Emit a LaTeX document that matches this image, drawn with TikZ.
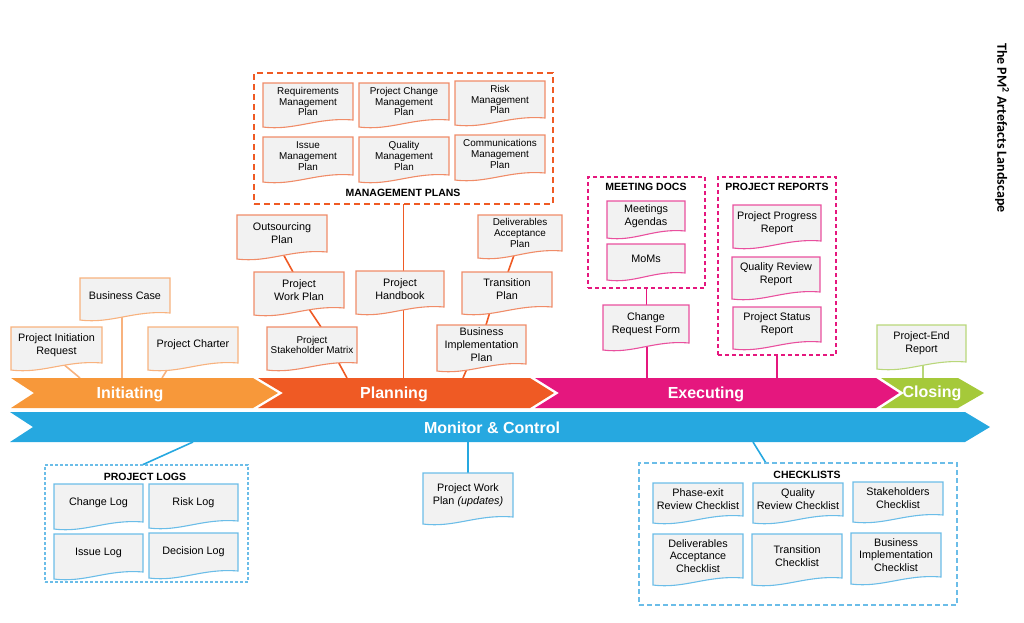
\documentclass[tikz,border=0pt]{standalone}
\usepackage{fontspec}
\setmainfont{Liberation Sans}
\newfontfamily\titlefont{Carlito}
\usetikzlibrary{backgrounds}

\definecolor{inicol}{RGB}{247,152,58}
\definecolor{plancol}{RGB}{239,90,36}
\definecolor{execol}{RGB}{229,23,126}
\definecolor{closecol}{RGB}{165,201,58}
\definecolor{mccol}{RGB}{38,168,224}
\definecolor{iniline}{RGB}{248,178,126}
\definecolor{planline}{RGB}{240,140,104}
\definecolor{exeline}{RGB}{233,80,158}
\definecolor{closeline}{RGB}{185,215,122}
\definecolor{mcline}{RGB}{107,189,232}
\definecolor{docgray}{RGB}{242,242,242}

% document shape with a wavy lower edge
\newdimen\dwL \newdimen\dwR \newdimen\dwT \newdimen\dwB
\newdimen\dwCa \newdimen\dwCb
\makeatletter
\pgfdeclareshape{wavedoc}{
  \inheritsavedanchors[from=rectangle]
  \inheritanchorborder[from=rectangle]
  \inheritanchor[from=rectangle]{center}
  \inheritanchor[from=rectangle]{north}
  \inheritanchor[from=rectangle]{south}
  \inheritanchor[from=rectangle]{east}
  \inheritanchor[from=rectangle]{west}
  \inheritanchor[from=rectangle]{north east}
  \inheritanchor[from=rectangle]{north west}
  \inheritanchor[from=rectangle]{south east}
  \inheritanchor[from=rectangle]{south west}
  \inheritanchor[from=rectangle]{text}
  \inheritanchor[from=rectangle]{mid}
  \inheritanchor[from=rectangle]{base}
  \backgroundpath{
    \southwest \global\dwL=\pgf@x \global\dwB=\pgf@y
    \northeast \global\dwR=\pgf@x \global\dwT=\pgf@y
    \dwCa=\dwR \advance\dwCa by-\dwL
    \dwCb=0.6\dwCa \advance\dwCb by\dwL
    \dwCa=0.35\dwCa \advance\dwCa by\dwL
    \pgfpathmoveto{\pgfqpoint{\dwL}{\dwT}}
    \pgfpathlineto{\pgfqpoint{\dwR}{\dwT}}
    \pgfpathlineto{\pgfqpoint{\dwR}{\dwB}}
    \pgfpathcurveto{\pgfqpoint{\dwCb}{\dimexpr\dwB+3pt\relax}}%
      {\pgfqpoint{\dwCa}{\dimexpr\dwB-11pt\relax}}%
      {\pgfqpoint{\dwL}{\dimexpr\dwB-7pt\relax}}
    \pgfpathclose
  }
}
\makeatother

\tikzset{
  artefact/.style={shape=wavedoc, draw=#1, fill=docgray, line width=1.1pt,
    anchor=north west, outer sep=0pt, inner sep=1pt, align=center,
    minimum width=90pt, minimum height=36pt,
    font=\fontsize{10.8}{12.8}\selectfont},
  tight/.style={font=\fontsize{9.9}{10.7}\selectfont},
  grpbox/.style={draw=#1, line width=1.3pt, anchor=north west,
    inner sep=0pt, outer sep=0pt},
  grplabel/.style={font=\fontsize{10.5}{12}\selectfont\bfseries},
  phaselabel/.style={text=white, font=\fontsize{16}{18}\selectfont\bfseries},
  link/.style={draw=#1, line width=1.6pt},
}

\begin{document}
\begin{tikzpicture}[x=1pt,y=-1pt]
\useasboundingbox (0,0) rectangle (1024,622);

% phase bars
\fill[inicol] (11,378) -- (253,378) -- (278,393) -- (253,408) -- (11,408) -- (34,393) -- cycle;
\fill[plancol] (258,378) -- (530,378) -- (554,393) -- (530,408) -- (258,408) -- (283,393) -- cycle;
\fill[execol] (535,378) -- (876,378) -- (899,393) -- (876,408) -- (535,408) -- (559,393) -- cycle;
\fill[closecol] (881,378) -- (958,378) -- (984,393) -- (958,408) -- (881,408) -- (904,393) -- cycle;
\fill[mccol] (10,412) -- (965,412) -- (990,427) -- (965,442) -- (10,442) -- (33,427) -- cycle;
\node[phaselabel] (initiating) at (130,394) {Initiating};
\node[phaselabel] (planning) at (394,394) {Planning};
\node[phaselabel] (executing) at (706,394) {Executing};
\node[phaselabel] (closing) at (932,393) {Closing};
\node[phaselabel] (monitor) at (492,428) {Monitor \& Control};

\coordinate (ib1) at (80,378);
\coordinate (ib2) at (122,378);
\coordinate (ib3) at (162,378);
\coordinate (pb1) at (347,378);
\coordinate (pb2) at (403.5,378);
\coordinate (pb3) at (463,378);
\coordinate (eb1) at (647,378);
\coordinate (eb2) at (777,378);
\coordinate (cb1) at (923,378);
\coordinate (mb1) at (193,442);
\coordinate (mb2) at (468,442);
\coordinate (mb3) at (753,442);

% title
\node[rotate=-90, font=\titlefont\fontsize{14}{16}\selectfont\bfseries] (title) at (1002,128) {The PM\textsuperscript{2} Artefacts Landscape};

% initiating
\node[artefact=iniline, minimum width=91pt] (pir) at (11,327) {Project Initiation\\Request};
\node[artefact=iniline, minimum height=35pt] (bcase) at (80,278) {Business Case};
\node[artefact=iniline] (pcharter) at (148,327) {Project Charter};

% planning
\node[grpbox=plancol, dash pattern=on 6pt off 4pt, minimum width=299pt, minimum height=131pt] (mplans) at (254,73) {};
\node[grplabel] (mplanslbl) at (403,193) {MANAGEMENT PLANS};
\node[artefact=planline, tight, minimum height=37pt] (rmp) at (263,83) {Requirements\\Management\\Plan};
\node[artefact=planline, tight, minimum height=37pt] (pcmp) at (359,83) {Project Change\\Management\\Plan};
\node[artefact=planline, tight, minimum height=37pt] (riskmp) at (455,81) {Risk\\Management\\Plan};
\node[artefact=planline, tight, minimum height=38pt] (imp) at (263,137) {Issue\\Management\\Plan};
\node[artefact=planline, tight, minimum height=38pt] (qmp) at (359,137) {Quality\\Management\\Plan};
\node[artefact=planline, tight, minimum height=38pt] (cmp) at (455,135) {Communications\\Management\\Plan};
\node[artefact=planline, minimum height=37pt] (outsrc) at (237,215) {Outsourcing\\Plan};
\node[artefact=planline] (pwp) at (254,272) {Project\\Work Plan};
\node[artefact=planline, tight] (psm) at (267,327) {Project\\Stakeholder Matrix};
\node[artefact=planline, minimum width=88pt] (phb) at (356,271) {Project\\Handbook};
\node[artefact=planline, tight, minimum width=84pt] (dap) at (478,215) {Deliverables\\Acceptance\\Plan};
\node[artefact=planline, minimum height=35pt] (trp) at (462,272) {Transition\\Plan};
\node[artefact=planline, minimum width=89pt, minimum height=39pt] (bip) at (437,325) {Business\\Implementation\\Plan};

% executing
\node[grpbox=execol, dash pattern=on 4pt off 3pt, minimum width=117pt, minimum height=111pt] (mdocs) at (588,177) {};
\node[grplabel] (mdocslbl) at (646,187) {MEETING DOCS};
\node[artefact=exeline, minimum width=78pt, minimum height=30pt] (agenda) at (607,201) {Meetings\\Agendas};
\node[artefact=exeline, minimum width=78pt, minimum height=29pt] (moms) at (607,244) {MoMs};
\node[artefact=exeline, minimum width=86pt, minimum height=38pt] (crf) at (603,305) {Change\\Request Form};
\node[grpbox=execol, dash pattern=on 4pt off 3pt, minimum width=118pt, minimum height=178pt] (preports) at (718,177) {};
\node[grplabel] (preportslbl) at (777,187) {PROJECT REPORTS};
\node[artefact=exeline, minimum width=88pt] (ppr) at (733,205) {Project Progress\\Report};
\node[artefact=exeline, minimum width=88pt, minimum height=35pt] (qrr) at (732,257) {Quality Review\\Report};
\node[artefact=exeline, minimum width=88pt, minimum height=35pt] (psr) at (733,307) {Project Status\\Report};

% closing
\node[artefact=closeline, minimum width=89pt, minimum height=37pt] (per) at (877,325) {Project-End\\Report};

% monitor and control
\node[grpbox=mcline, dash pattern=on 3pt off 2pt, line width=1.1pt, minimum width=203pt, minimum height=117pt] (logs) at (45,465) {};
\node[grplabel] (logslbl) at (145,477) {PROJECT LOGS};
\node[artefact=mcline, minimum width=89pt, minimum height=38pt] (clog) at (54,484) {Change Log};
\node[artefact=mcline, minimum width=89pt, minimum height=37pt] (rlog) at (149,484) {Risk Log};
\node[artefact=mcline, minimum width=89pt, minimum height=38pt] (ilog) at (54,534) {Issue Log};
\node[artefact=mcline, minimum width=89pt, minimum height=38pt] (dlog) at (149,533) {Decision Log};
\node[artefact=mcline, minimum height=44pt] (pwpu) at (423,473) {Project Work\\Plan \textit{(updates)}};
\node[grpbox=mcline, dash pattern=on 5pt off 3pt, line width=1.3pt, minimum width=318pt, minimum height=142pt] (checks) at (639,463) {};
\node[grplabel] (checkslbl) at (807,475) {CHECKLISTS};
\node[artefact=mcline, minimum height=33pt] (pxc) at (653,483) {Phase-exit\\Review Checklist};
\node[artefact=mcline, minimum height=33pt] (qrc) at (753,483) {Quality\\Review Checklist};
\node[artefact=mcline, minimum height=33pt] (shc) at (853,482) {Stakeholders\\Checklist};
\node[artefact=mcline, minimum height=44pt] (dac) at (653,534) {Deliverables\\Acceptance\\Checklist};
\node[artefact=mcline, minimum height=44pt] (trc) at (752,534) {Transition\\Checklist};
\node[artefact=mcline, minimum height=44pt] (bic) at (851,533) {Business\\Implementation\\Checklist};

% connectors
\begin{scope}[on background layer]
\draw[link=iniline] ([xshift=5.5pt]pir.south) -- (ib1);
\draw[link=iniline] ([xshift=-3pt]bcase.south) -- (ib2);
\draw[link=iniline] ([xshift=-21.6pt]pcharter.south) -- (ib3);
\draw[link=plancol] (outsrc.south) -- ([xshift=-6pt]pwp.north);
\draw[link=plancol] ([xshift=9.3pt]pwp.south) -- ([xshift=9pt]psm.north);
\draw[link=plancol] ([xshift=26.8pt]psm.south) -- (pb1);
\draw[link=plancol] (mplans.south) -- (mplans.south |- phb.north);
\draw[link=plancol] ([xshift=3.5pt]phb.south) -- (pb2);
\draw[link=plancol] ([xshift=-4.5pt]dap.south) -- ([xshift=1pt]trp.north);
\draw[link=plancol] ([xshift=-15.6pt]trp.south) -- ([xshift=4.5pt]bip.north);
\draw[link=plancol] ([xshift=-12.5pt]bip.south) -- (pb3);
\draw[link=execol] (mdocs.south) -- (mdocs.south |- crf.north);
\draw[link=execol] ([xshift=1pt]crf.south) -- (eb1);
\draw[link=execol] (preports.south) -- (eb2);
\draw[link=closeline] ([xshift=1.5pt]per.south) -- (cb1);
\draw[link=mccol] ([xshift=-4.5pt]logs.north) -- (mb1);
\draw[link=mccol] (pwpu.north) -- (mb2);
\draw[link=mccol] ([xshift=-32pt]checks.north) -- (mb3);
\end{scope}
\end{tikzpicture}
\end{document}
